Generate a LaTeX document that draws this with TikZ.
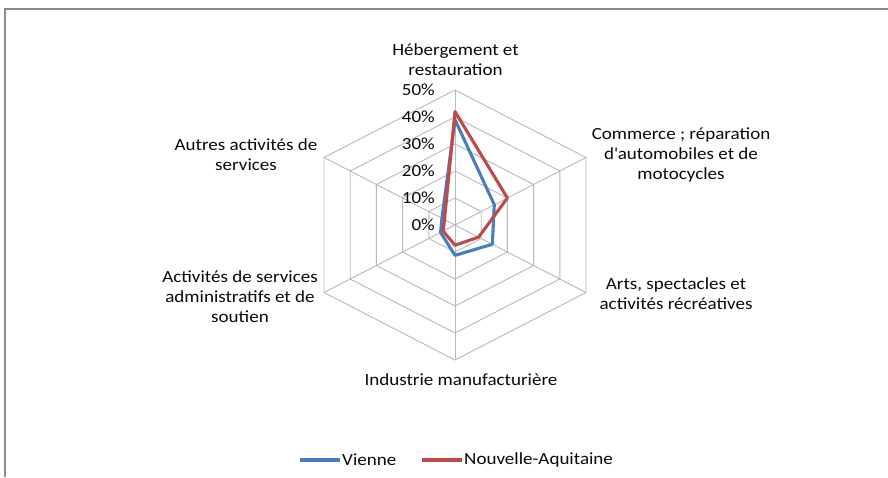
\documentclass[tikz,border=0pt]{standalone}
\usepackage{fontspec}
\setmainfont{Carlito}[FakeStretch=1.12]
\usetikzlibrary{calc}
\definecolor{gridc}{RGB}{185,185,185}
\definecolor{framec}{RGB}{140,140,140}
\definecolor{vienne}{RGB}{74,126,187}
\definecolor{naq}{RGB}{190,75,72}
\definecolor{txt}{RGB}{10,10,10}
\begin{document}
\begin{tikzpicture}[x=1pt,y=-1pt,
  grid/.style={draw=gridc,line width=0.9pt},
  serie/.style={line width=3.1pt,line join=round},
  lab/.style={font=\fontsize{17}{20}\selectfont,align=center,text=txt,inner sep=0pt},
  tick/.style={font=\fontsize{17}{20}\selectfont,anchor=east,text=txt,inner sep=0pt}]
\useasboundingbox (0,0) rectangle (888,477);
\fill[white] (0,0) rectangle (888,477);
\draw[framec,line width=1.5pt] (888,9) -- (5,9) -- (5,477);
\coordinate (C) at (455,225);
\coordinate (A0) at (455,90);
\coordinate (A1) at (586,157.5);
\coordinate (A2) at (586,292.5);
\coordinate (A3) at (455,360);
\coordinate (A4) at (324,292.5);
\coordinate (A5) at (324,157.5);
\foreach \k in {0.2,0.4,0.6,0.8,1}{
  \draw[grid] ($(C)!\k!(A0)$) -- ($(C)!\k!(A1)$) -- ($(C)!\k!(A2)$) -- ($(C)!\k!(A3)$) -- ($(C)!\k!(A4)$) -- ($(C)!\k!(A5)$) -- cycle;
}
\foreach \i in {0,...,5} \draw[grid] (C) -- (A\i);
% data
\draw[serie,vienne] ($(C)!0.78!(A0)$) -- ($(C)!0.30!(A1)$) -- ($(C)!0.285!(A2)$) -- ($(C)!0.225!(A3)$) -- ($(C)!0.11!(A4)$) -- ($(C)!0.10!(A5)$) -- cycle;
\draw[serie,naq] ($(C)!0.84!(A0)$) -- ($(C)!0.40!(A1)$) -- ($(C)!0.18!(A2)$) -- ($(C)!0.15!(A3)$) -- ($(C)!0.09!(A4)$) -- ($(C)!0.08!(A5)$) -- cycle;
% ticks
\foreach \p/\k in {0/0,10/1,20/2,30/3,40/4,50/5}
  \node[tick] (t\p) at (435,{225-27*\k}) {\p\%};
% category labels
\node[lab] (Lheb) at (455.5,60) {Hébergement et\\restauration};
\node[lab] (Lcom) at (681,155) {Commerce ; réparation\\d\textquotesingle automobiles et de\\motocycles};
\node[lab] (Lart) at (676,294) {Arts, spectacles et\\activités récréatives};
\node[lab] (Lind) at (461,380) {Industrie manufacturière};
\node[lab] (Ladm) at (240,297) {Activités de services\\administratifs et de\\soutien};
\node[lab] (Laut) at (246,155) {Autres activités de\\services};
% legend
\coordinate (lb1) at (300,460);
\coordinate (lb2) at (340,460);
\coordinate (lr1) at (422,460);
\coordinate (lr2) at (462,460);
\draw[vienne,line width=3.1pt] (lb1) -- (lb2);
\draw[naq,line width=3.1pt] (lr1) -- (lr2);
\node[lab,anchor=west] (lv) at (342,460) {Vienne};
\node[lab,anchor=west] (ln) at (464,460) {Nouvelle-Aquitaine};
\end{tikzpicture}
\end{document}
